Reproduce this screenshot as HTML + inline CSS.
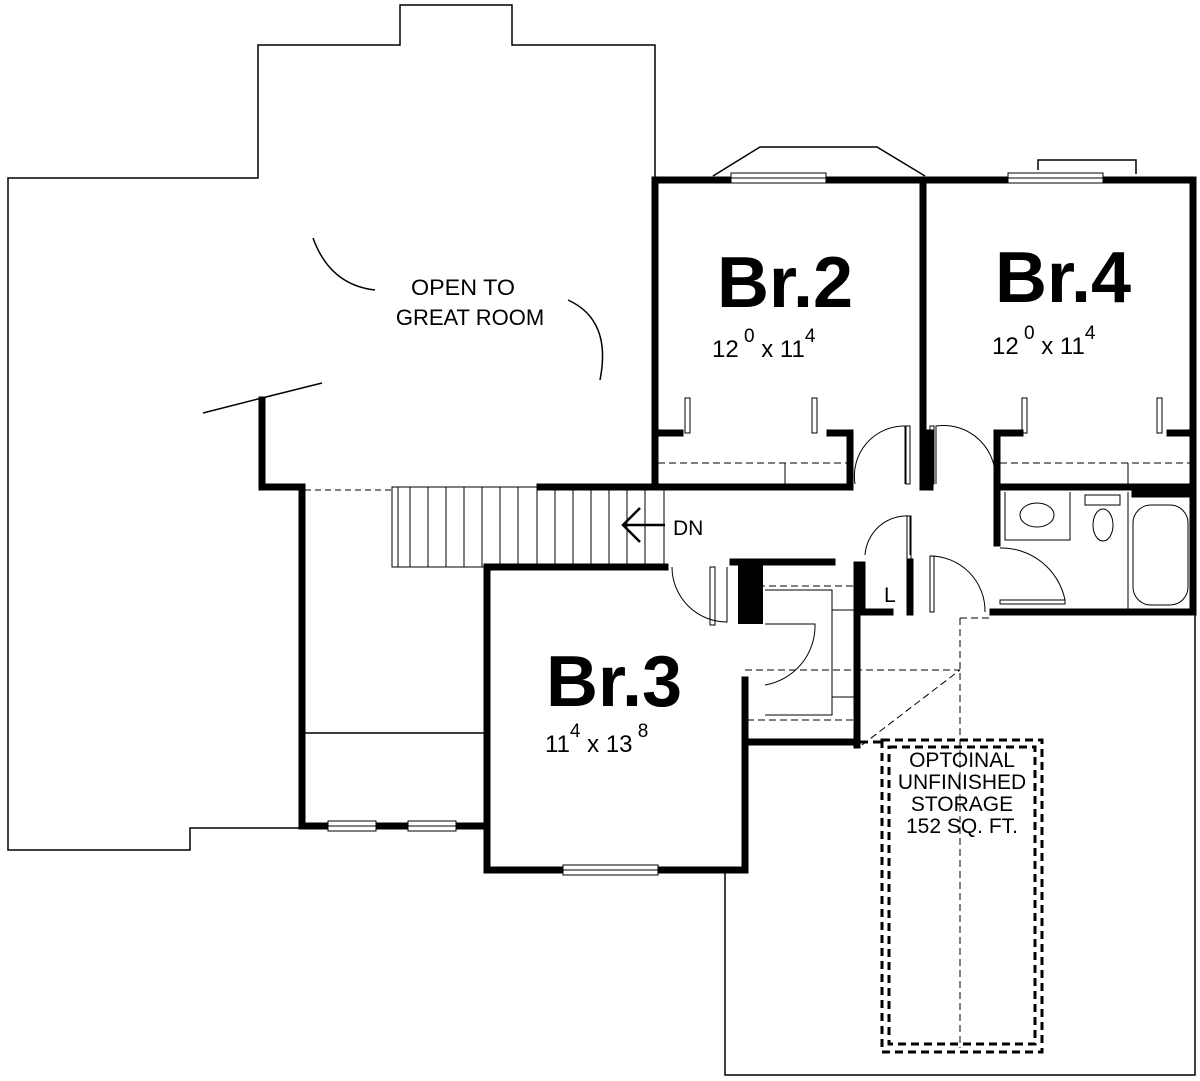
<!DOCTYPE html>
<html><head><meta charset="utf-8"><style>
html,body{margin:0;padding:0;background:#fff;}
svg{display:block;}
text{font-family:"Liberation Sans",sans-serif;fill:#000;}
</style></head><body>
<svg width="1200" height="1081" viewBox="0 0 1200 1081" xmlns="http://www.w3.org/2000/svg">
<g fill="none" stroke="#000" stroke-width="1.5">
<polyline points="655,178 655,45 512,45 512,5 400,5 400,45 258,45 258,178 8,178 8,850 190,850 190,828 300,828"/>
<polyline points="725,870 725,1075 1195,1075 1195,612"/>
<polyline points="713,176 760,147 877,147 925,176"/>
<polyline points="1038,170 1038,160 1136,160 1136,174"/>
<line x1="203" y1="413" x2="262" y2="398"/>
<line x1="262" y1="398" x2="322" y2="383"/>
<path d="M313,238 Q330,285 375,290"/>
<path d="M568,300 Q612,320 600,380"/>
<line x1="305" y1="733" x2="485" y2="733"/>
</g>
<g fill="none" stroke="#000" stroke-width="7" stroke-linecap="square">
<polyline points="655,487 655,180 923,180 923,487"/>
<line x1="923" y1="180" x2="1193" y2="180"/>
<line x1="1193" y1="180" x2="1193" y2="612"/>
<line x1="655" y1="487" x2="850" y2="487"/>
<line x1="850" y1="487" x2="850" y2="433"/>
<line x1="850" y1="433" x2="830" y2="433"/>
<line x1="655" y1="433" x2="680" y2="433"/>
<line x1="930" y1="433" x2="930" y2="487"/>
<line x1="997" y1="487" x2="1193" y2="487"/>
<line x1="997" y1="487" x2="997" y2="433"/>
<line x1="997" y1="433" x2="1020" y2="433"/>
<line x1="1170" y1="433" x2="1193" y2="433"/>
<line x1="997" y1="487" x2="997" y2="543"/>
<line x1="993" y1="612" x2="1193" y2="612"/>
<line x1="1135" y1="494" x2="1193" y2="494"/>
<polyline points="262,400 262,487 302,487 302,826 485,826"/>
<line x1="540" y1="487" x2="655" y2="487"/>
<polyline points="665,567 487,567 487,870 745,870 745,740"/>
<polyline points="733,562 832,562"/>
<line x1="857" y1="565" x2="857" y2="745"/>
<line x1="748" y1="742" x2="857" y2="742"/>
<line x1="745" y1="680" x2="745" y2="748"/>
<polyline points="862,612 890,612"/>
<line x1="910" y1="562" x2="910" y2="612"/>
<line x1="862" y1="612" x2="862" y2="565"/>
</g>
<rect x="738" y="562" width="25" height="62" fill="#000"/>
<g fill="#fff" stroke="#000" stroke-width="1">
<rect x="731" y="173" width="95" height="10"/>
<rect x="1008" y="173" width="95" height="10"/>
<rect x="328" y="821" width="48" height="10"/>
<rect x="408" y="821" width="48" height="10"/>
<rect x="563" y="865" width="95" height="10"/>
</g>
<g stroke="#000" stroke-width="1" fill="none">
<line x1="731" y1="178" x2="826" y2="178"/><line x1="1008" y1="178" x2="1103" y2="178"/>
<line x1="328" y1="826" x2="376" y2="826"/><line x1="408" y1="826" x2="456" y2="826"/>
<line x1="563" y1="870" x2="658" y2="870"/>
</g>
<g stroke="#000" stroke-width="1" fill="none">
<rect x="685" y="398" width="5" height="35"/><rect x="812" y="398" width="5" height="35"/>
<rect x="1022" y="398" width="5" height="35"/><rect x="1157" y="398" width="5" height="35"/>
<line x1="658" y1="463" x2="850" y2="463" stroke-dasharray="7,4"/>
<line x1="785" y1="463" x2="785" y2="484"/>
<line x1="1000" y1="463" x2="1190" y2="463" stroke-dasharray="7,4"/>
<line x1="1128" y1="463" x2="1128" y2="484"/>
<path d="M855,484 A50,50 0 0 1 905,426 L905,484"/>
<rect x="906" y="426" width="4" height="58"/>
<path d="M995,484 A52,52 0 0 0 936,426 L936,484"/>
<rect x="930" y="426" width="4" height="58"/>
<path d="M672,567 A55,55 0 0 0 727,622 L727,567"/>
<rect x="710" y="567" width="5" height="58"/>
<path d="M865,555 A42,42 0 0 1 910,516 L910,555"/>
<rect x="907" y="516" width="4" height="45"/>
<path d="M930,556 A55,55 0 0 1 985,612"/>
<rect x="930" y="556" width="4" height="56"/>
<path d="M1000,548 A65,65 0 0 1 1065,600"/>
<rect x="1000" y="600" width="65" height="4"/>
<path d="M765,624 L815,624 A60,60 0 0 1 765,685"/>
<line x1="747" y1="586" x2="857" y2="586" stroke-dasharray="7,4"/>
<line x1="747" y1="720" x2="857" y2="720" stroke-dasharray="7,4"/>
<polyline points="765,590 832,590 832,715 765,715"/>
<line x1="832" y1="610" x2="857" y2="610"/>
<line x1="832" y1="697" x2="857" y2="697"/>
<line x1="745" y1="670" x2="960" y2="670" stroke-dasharray="7,4"/>
<line x1="960" y1="618" x2="990" y2="618" stroke-dasharray="7,4"/>
<line x1="960" y1="618" x2="960" y2="1048" stroke-dasharray="7,4"/>
<line x1="862" y1="745" x2="960" y2="670" stroke-dasharray="7,4"/>
<polyline points="1005,492 1005,540 1070,540 1070,492"/>
<ellipse cx="1037" cy="515" rx="17" ry="12"/>
<rect x="1085" y="495" width="35" height="10"/>
<ellipse cx="1103" cy="525" rx="10" ry="16"/>
<line x1="1128" y1="492" x2="1128" y2="612"/>
<rect x="1133" y="505" width="55" height="100" rx="18"/>
<rect x="392" y="487" width="272" height="80"/>
<line x1="305" y1="490" x2="392" y2="490" stroke-dasharray="6,4"/>
<line x1="398" y1="487" x2="398" y2="567"/>
<line x1="410" y1="487" x2="410" y2="567"/>
<line x1="428" y1="487" x2="428" y2="567"/><line x1="446" y1="487" x2="446" y2="567"/>
<line x1="464" y1="487" x2="464" y2="567"/><line x1="482" y1="487" x2="482" y2="567"/>
<line x1="500" y1="487" x2="500" y2="567"/><line x1="518" y1="487" x2="518" y2="567"/>
<line x1="537" y1="487" x2="537" y2="567"/><line x1="555" y1="487" x2="555" y2="567"/>
<line x1="573" y1="487" x2="573" y2="567"/><line x1="591" y1="487" x2="591" y2="567"/>
<line x1="609" y1="487" x2="609" y2="567"/><line x1="627" y1="487" x2="627" y2="567"/>
<line x1="645" y1="487" x2="645" y2="567"/>
</g>
<g stroke="#000" stroke-width="2.5" fill="none">
<line x1="625" y1="525" x2="665" y2="525"/>
<polyline points="640,508 623,525 640,542"/>
</g>
<g stroke="#000" stroke-width="3" fill="none" stroke-dasharray="8,5">
<rect x="882" y="740" width="160" height="312"/>
<rect x="889" y="747" width="146" height="297"/>
<line x1="860" y1="742" x2="882" y2="742"/>
</g>
<text x="463" y="295" font-size="22" text-anchor="middle" textLength="104" lengthAdjust="spacingAndGlyphs" dx="0">OPEN TO</text>
<text x="470" y="325" font-size="22" text-anchor="middle">GREAT ROOM</text>
<text x="785" y="307" font-size="72" font-weight="bold" text-anchor="middle">Br.2</text>
<text x="1063" y="302" font-size="72" font-weight="bold" text-anchor="middle">Br.4</text>
<text x="614" y="706" font-size="72" font-weight="bold" text-anchor="middle">Br.3</text>
<text x="712" y="357" font-size="24">12<tspan dy="-15" font-size="19"> 0</tspan><tspan dy="15"> x 11</tspan><tspan dy="-15" font-size="19">4</tspan></text>
<text x="992" y="354" font-size="24">12<tspan dy="-15" font-size="19"> 0</tspan><tspan dy="15"> x 11</tspan><tspan dy="-15" font-size="19">4</tspan></text>
<text x="545" y="752" font-size="24">11<tspan dy="-15" font-size="19">4</tspan><tspan dy="15"> x 13</tspan><tspan dy="-15" font-size="19"> 8</tspan></text>
<text x="673" y="535" font-size="21">DN</text>
<text x="962" y="767" font-size="21" text-anchor="middle">OPTOINAL</text>
<text x="962" y="789" font-size="21" text-anchor="middle">UNFINISHED</text>
<text x="962" y="811" font-size="21" text-anchor="middle">STORAGE</text>
<text x="962" y="833" font-size="21" text-anchor="middle">152 SQ. FT.</text>
<text x="884" y="602" font-size="21">L</text>
</svg>
</body></html>
